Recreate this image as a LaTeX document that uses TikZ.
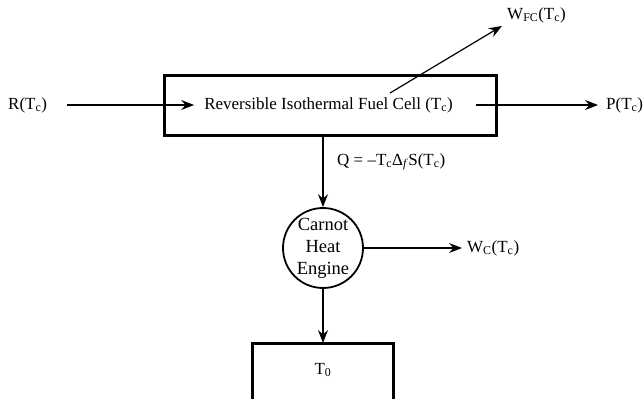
\documentclass[tikz,border=0pt]{standalone}
\usepackage{fontspec}
\setmainfont{Liberation Serif}
\usetikzlibrary{arrows.meta, positioning}
\newcommand{\dn}[1]{\textsubscript{#1}}

\begin{document}
\begin{tikzpicture}[
  x=1pt, y=-1pt,
  every node/.style={font=\fontsize{17}{20}\selectfont, inner sep=0pt},
  cellbox/.style={rectangle, draw, line width=3pt, minimum width=332pt,
                  minimum height=60pt},
  engine/.style={circle, draw, line width=1.8pt, minimum size=80pt,
                 align=center, font=\fontsize{18.5}{22}\selectfont},
  arrow/.style={-{Stealth[length=13pt, width=10pt, inset=4.5pt]}, line width=1.2pt},
]
\useasboundingbox (0,0) rectangle (643,399);
% fuel cell and its streams
\node[cellbox] (fc) at (330,105) {};
\node (fctext) at (328.5,105) {Reversible Isothermal Fuel Cell (T\dn{c})};
\node[anchor=west] (rin)  at (8,105)   {R(T\dn{c})};
\node[anchor=west] (pout) at (606,105) {P(T\dn{c})};
\node[anchor=west] (wfc)  at (507,15)  {W\dn{FC}(T\dn{c})};
\coordinate (wfcstart) at (390,93);
% heat engine and reservoir
\node[engine] (carnot) at (323,248) {Carnot\\Heat\\Engine};
\node[anchor=west] (heat) at (337,162) {Q = –T\dn{c}Δ\dn{\textit{f}}S(T\dn{c})};
\node[anchor=west] (wc)   at (467,248) {W\dn{C}(T\dn{c})};
\node (sink) at (323,370) {T\dn{0}};
\coordinate (sinktop) at (323,343);
\draw[line width=3pt] (252,399) |- (sinktop) -| (393,399);
\draw[arrow, shorten <=20pt, shorten >=10pt] (rin.east) -- (fctext.west);
\draw[arrow, shorten <=23pt, shorten >=8pt] (fctext.east) -- (pout.west);
\draw[arrow, shorten >=6pt] (wfcstart) -- (wfc.south west);
\draw[arrow] (fc.south -| carnot.north) -- (carnot.north);
\draw[arrow, shorten >=5pt] (carnot.east) -- (wc.west);
\draw[arrow] (carnot.south) -- (sinktop);
\end{tikzpicture}
\end{document}
